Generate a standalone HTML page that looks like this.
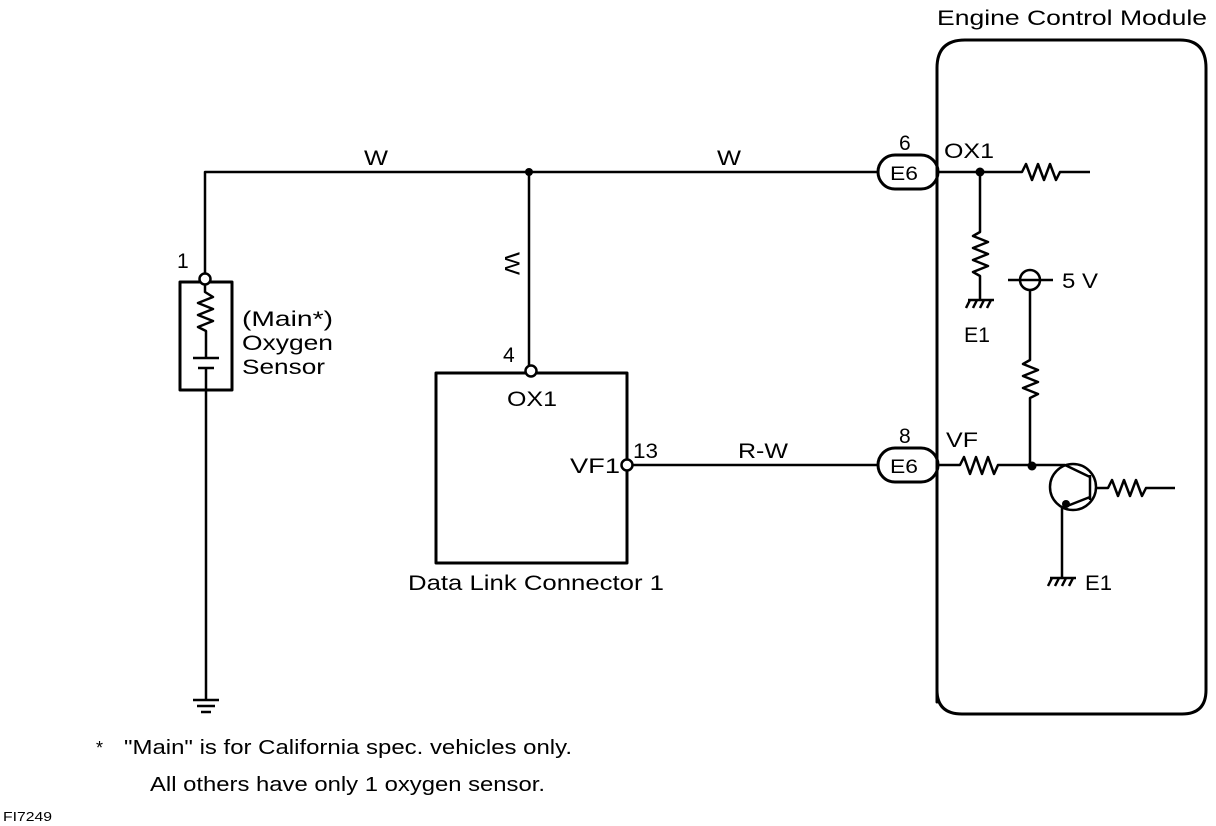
<!DOCTYPE html>
<html><head><meta charset="utf-8"><style>
html,body{margin:0;padding:0;background:#fff;}
svg{display:block;}
text{font-family:"Liberation Sans",Arial,sans-serif;fill:#000;}
</style></head><body>
<svg width="1216" height="826" viewBox="0 0 1216 826" xmlns="http://www.w3.org/2000/svg">
<g fill="none" stroke="#000" stroke-width="2.5" stroke-linejoin="round">
<path d="M937 702 L937 68 Q937 40 965 40 L1180 40 Q1206 40 1206 68 L1206 690 Q1206 714 1182 714 L962 714 Q937 714 937 690 Z" stroke-width="3"/>
<path d="M205 274 L205 172 L878 172"/>
<path d="M529 172 L529 366"/>
<rect x="180" y="282" width="52" height="108" stroke-width="3"/>
<path d="M205 283 L205 292 L213 297 L198 303 L213 309 L198 315 L213 321 L198 327 L206 331 L206 358"/>
<path d="M193 358 L219 358 M198 368 L214 368"/>
<path d="M206 368 L206 700"/>
<path d="M193 700 L219 700 M197 706 L215 706 M201 712 L211 712"/>
<rect x="436" y="373" width="191" height="190" stroke-width="3"/>
<path d="M632 465 L878 465"/>
<rect x="878" y="155" width="60" height="34" rx="17" stroke-width="3"/>
<rect x="878" y="448" width="60" height="34" rx="17" stroke-width="3"/>
<path d="M938 172 L1022 172 L1026 164 L1032 180 L1038 164 L1044 180 L1050 164 L1056 180 L1060 172 L1090 172"/>
<path d="M980 172 L980 232 L973 236 L988 242 L973 248 L988 254 L973 260 L988 266 L973 272 L980 276 L980 300"/>
<path d="M968 300 L994 300 M970 300 L966 308 M977 300 L973 308 M984 300 L980 308 M991 300 L987 308"/>
<circle cx="1030" cy="280" r="10"/>
<path d="M1008 280 L1053 280"/>
<path d="M1030 290 L1030 360 L1023 364 L1038 370 L1023 376 L1038 382 L1023 388 L1038 394 L1030 398 L1030 465"/>
<path d="M938 465 L960 465 L964 457 L970 474 L976 457 L982 474 L988 457 L994 474 L998 465 L1065 465"/>
<circle cx="1073" cy="487" r="23"/>
<path d="M1090 475 L1090 500 M1065 465 L1090 477 M1062 508 L1090 497"/>
<path d="M1096 488 L1108 488 L1112 480 L1118 496 L1124 480 L1130 496 L1136 480 L1142 496 L1146 488 L1175 488"/>
<path d="M1062 508 L1062 578"/>
<path d="M1050 578 L1076 578 M1052 578 L1048 586 M1059 578 L1055 586 M1066 578 L1062 586 M1073 578 L1069 586"/>
</g>
<g fill="#000">
<circle cx="529" cy="172" r="4"/>
<circle cx="980" cy="172" r="4.5"/>
<circle cx="1032" cy="466" r="4.5"/>
<circle cx="1066" cy="504" r="4"/>
</g>
<g fill="#fff" stroke="#000" stroke-width="2.5">
<circle cx="205" cy="279" r="5.5"/>
<circle cx="531" cy="371" r="5.5"/>
<circle cx="627" cy="465" r="5.5"/>
</g>
<g font-size="21">
<text x="937" y="25" textLength="270" lengthAdjust="spacingAndGlyphs">Engine Control Module</text>
<text x="364" y="165" textLength="24" lengthAdjust="spacingAndGlyphs">W</text>
<text x="717" y="165" textLength="24" lengthAdjust="spacingAndGlyphs">W</text>
<text x="0" y="0" transform="translate(505,252) rotate(90)" textLength="23" lengthAdjust="spacingAndGlyphs">W</text>
<text x="177" y="268">1</text>
<text x="242" y="326" textLength="91" lengthAdjust="spacingAndGlyphs">(Main*)</text>
<text x="242" y="350" textLength="91" lengthAdjust="spacingAndGlyphs">Oxygen</text>
<text x="242" y="374" textLength="83" lengthAdjust="spacingAndGlyphs">Sensor</text>
<text x="503" y="362">4</text>
<text x="507" y="406" textLength="50" lengthAdjust="spacingAndGlyphs">OX1</text>
<text x="570" y="473" textLength="50" lengthAdjust="spacingAndGlyphs">VF1</text>
<text x="633" y="458" textLength="25" lengthAdjust="spacingAndGlyphs">13</text>
<text x="738" y="458" textLength="50" lengthAdjust="spacingAndGlyphs">R-W</text>
<text x="408" y="590" textLength="256" lengthAdjust="spacingAndGlyphs">Data Link Connector 1</text>
<text x="899" y="150">6</text>
<text x="899" y="443">8</text>
<text x="890" y="180" font-size="19" textLength="28" lengthAdjust="spacingAndGlyphs">E6</text>
<text x="890" y="473" font-size="19" textLength="28" lengthAdjust="spacingAndGlyphs">E6</text>
<text x="944" y="158" textLength="50" lengthAdjust="spacingAndGlyphs">OX1</text>
<text x="946" y="447" textLength="32" lengthAdjust="spacingAndGlyphs">VF</text>
<text x="964" y="342" textLength="26" lengthAdjust="spacingAndGlyphs">E1</text>
<text x="1062" y="288" textLength="36" lengthAdjust="spacingAndGlyphs">5 V</text>
<text x="1085" y="590" textLength="27" lengthAdjust="spacingAndGlyphs">E1</text>
<text x="96" y="754" font-size="18">*</text>
<text x="124" y="754" font-size="20" textLength="448" lengthAdjust="spacingAndGlyphs">"Main" is for California spec. vehicles only.</text>
<text x="150" y="791" font-size="20" textLength="395" lengthAdjust="spacingAndGlyphs">All others have only 1 oxygen sensor.</text>
<text x="3" y="821" font-size="13" textLength="49" lengthAdjust="spacingAndGlyphs">FI7249</text>
</g>
</svg>
</body></html>
